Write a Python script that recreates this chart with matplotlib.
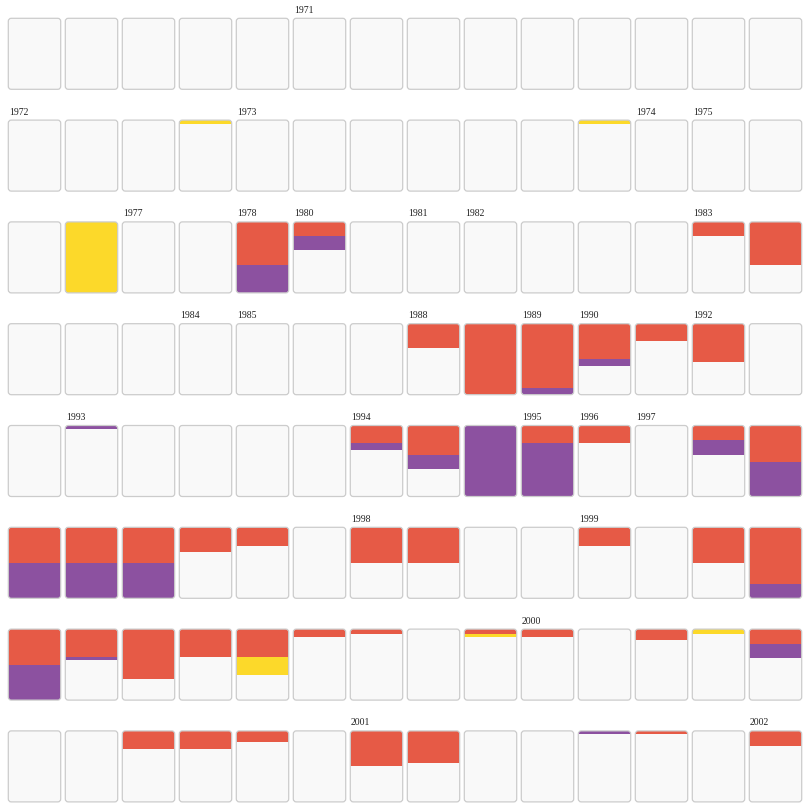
import matplotlib
matplotlib.use("Agg")
import matplotlib.pyplot as plt
from matplotlib.patches import FancyBboxPatch, Rectangle

# grid of 8 rows x 14 columns, values are share of the card height
n_rows, n_cols = 8, 14

red = [
    0, 0, 0, 0, 0, 0, 0, 0, 0, 0, 0, 0, 0, 0,
    0, 0, 0, 0, 0, 0, 0, 0, 0, 0, 0, 0, 0, 0,
    0, 0, 0, 0, 0.60, 0.20, 0, 0, 0, 0, 0, 0, 0.20, 0.60,
    0, 0, 0, 0, 0, 0, 0, 0.34, 1.0, 0.90, 0.50, 0.25, 0.54, 0,
    0, 0, 0, 0, 0, 0, 0.25, 0.41, 0, 0.25, 0.25, 0, 0.21, 0.51,
    0.50, 0.50, 0.50, 0.35, 0.26, 0, 0.50, 0.50, 0, 0, 0.26, 0, 0.50, 0.80,
    0.50, 0.40, 0.70, 0.40, 0.40, 0.11, 0.07, 0, 0.066, 0.11, 0, 0.15, 0, 0.21,
    0, 0, 0.25, 0.25, 0.15, 0, 0.50, 0.45, 0, 0, 0, 0.05, 0, 0.21,
]
purple = [
    0, 0, 0, 0, 0, 0, 0, 0, 0, 0, 0, 0, 0, 0,
    0, 0, 0, 0, 0, 0, 0, 0, 0, 0, 0, 0, 0, 0,
    0, 0, 0, 0, 0.40, 0.20, 0, 0, 0, 0, 0, 0, 0, 0,
    0, 0, 0, 0, 0, 0, 0, 0, 0, 0.10, 0.10, 0, 0, 0,
    0, 0.05, 0, 0, 0, 0, 0.10, 0.20, 1.0, 0.75, 0, 0, 0.20, 0.49,
    0.50, 0.50, 0.50, 0, 0, 0, 0, 0, 0, 0, 0, 0, 0, 0.20,
    0.50, 0.04, 0, 0, 0, 0, 0, 0, 0, 0, 0, 0, 0, 0.20,
    0, 0, 0, 0, 0, 0, 0, 0, 0, 0, 0.05, 0, 0, 0,
]
yellow = [
    0, 0, 0, 0, 0, 0, 0, 0, 0, 0, 0, 0, 0, 0,
    0, 0, 0, 0.05, 0, 0, 0, 0, 0, 0, 0.05, 0, 0, 0,
    0, 1.0, 0, 0, 0, 0, 0, 0, 0, 0, 0, 0, 0, 0,
    0, 0, 0, 0, 0, 0, 0, 0, 0, 0, 0, 0, 0, 0,
    0, 0, 0, 0, 0, 0, 0, 0, 0, 0, 0, 0, 0, 0,
    0, 0, 0, 0, 0, 0, 0, 0, 0, 0, 0, 0, 0, 0,
    0, 0, 0, 0, 0.24, 0, 0, 0, 0.04, 0, 0, 0, 0.07, 0,
    0, 0, 0, 0, 0, 0, 0, 0, 0, 0, 0, 0, 0, 0,
]

# year label shown above some cards: cell index -> label
label_cells = [5, 14, 18, 25, 26, 30, 32, 33, 35, 36, 40,
               45, 46, 49, 51, 52, 54, 57, 62, 65, 66, 67,
               76, 80, 93, 104, 111]
label_years = ["1971", "1972", "1973", "1974", "1975", "1977", "1978", "1980",
               "1981", "1982", "1983", "1984", "1985", "1988", "1989", "1990",
               "1992", "1993", "1994", "1995", "1996", "1997", "1998", "1999",
               "2000", "2001", "2002"]

colors = {"red": "#E65A46", "purple": "#8C51A0", "yellow": "#FCD92A"}

W = H = 811
fig = plt.figure(figsize=(8.11, 8.11), dpi=100)
ax = fig.add_axes([0, 0, 1, 1])
ax.set_xlim(0, W)
ax.set_ylim(H, 0)
ax.axis("off")

x0, y0 = 8.3, 18.3
cw, ch = 52.4, 71.0
px, py = 57.0, 101.8

for i in range(n_rows * n_cols):
    r, c = divmod(i, n_cols)
    x = x0 + c * px
    y = y0 + r * py
    card = FancyBboxPatch((x, y), cw, ch, boxstyle="round,pad=0,rounding_size=3",
                          facecolor="#F9F9F9", edgecolor="none", zorder=1)
    ax.add_patch(card)
    top = y
    for val, key in [(red[i], "red"), (purple[i], "purple"), (yellow[i], "yellow")]:
        if val > 0:
            rect = Rectangle((x, top), cw, val * ch, facecolor=colors[key],
                             edgecolor="none", zorder=2)
            ax.add_patch(rect)
            rect.set_clip_path(card)
            top += val * ch
    border = FancyBboxPatch((x, y), cw, ch, boxstyle="round,pad=0,rounding_size=3",
                            facecolor="none", edgecolor="#CCCCCC", linewidth=0.9, zorder=3)
    ax.add_patch(border)

for idx, yr in zip(label_cells, label_years):
    r, c = divmod(idx, n_cols)
    ax.text(x0 + c * px + 0.5, y0 + r * py - 3.5, yr, fontsize=7,
            family="Liberation Serif", color="#222222", ha="left", va="bottom")

fig.savefig("out.png", dpi=100, facecolor="white")
